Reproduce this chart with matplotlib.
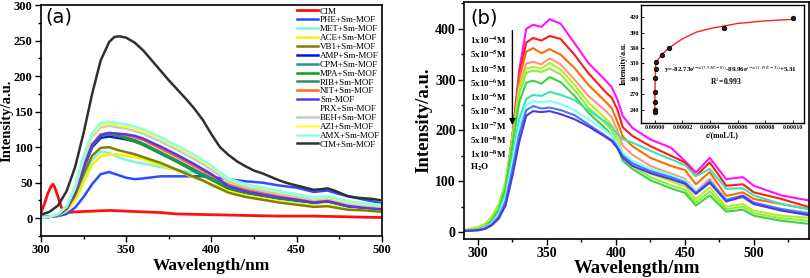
import numpy as np
import matplotlib
matplotlib.use('Agg')
import matplotlib.pyplot as plt
from matplotlib.ticker import MultipleLocator, FormatStrFormatter

plt.rcParams['font.family'] = ['Liberation Serif', 'DejaVu Serif']
plt.rcParams['mathtext.fontset'] = 'stix'

# ---------------- panel (a) data ----------------
wl_a = [300, 305, 310, 315, 320, 325, 330, 335, 340, 345, 350, 355, 360, 370,
        380, 390, 395, 400, 410, 420, 430, 440, 450, 460, 468, 475, 480, 490, 500]

wl_cim = [300, 302, 304, 306, 307, 308, 310, 312, 314, 316, 320, 330, 340, 350,
          360, 370, 380, 400, 420, 440, 460, 480, 500]
cim = [8, 20, 35, 45, 48, 44, 30, 15, 9, 8, 9, 10, 11, 10, 9, 8, 6, 5, 4, 3, 3, 2, 1]

wl_black = [300, 305, 310, 315, 320, 325, 330, 335, 340, 343, 346, 350, 355, 360,
            365, 370, 375, 380, 385, 390, 395, 400, 405, 410, 415, 420, 425, 430,
            435, 440, 445, 450, 455, 460, 465, 468, 472, 476, 480, 485, 490, 495, 500]
cim_mof = [5, 9, 18, 38, 72, 120, 175, 222, 248, 255, 256, 254, 247, 236,
           222, 208, 194, 181, 168, 154, 138, 118, 100, 89, 80, 73, 67, 63,
           58, 53, 49, 46, 43, 40, 41, 42, 39, 35, 31, 29, 28, 27, 25]

labels_a = ['CIM', 'PHE+Sm-MOF', 'MET+Sm-MOF', 'ACE+Sm-MOF', 'VB1+Sm-MOF',
            'AMP+Sm-MOF', 'CPM+Sm-MOF', 'MPA+Sm-MOF', 'RIB+Sm-MOF', 'NIT+Sm-MOF',
            'Sm-MOF', 'PRX+Sm-MOF', 'BEH+Sm-MOF', 'AZI+Sm-MOF', 'AMX+Sm-MOF',
            'CIM+Sm-MOF']
colors_a = ['#ff1010', '#2a4cff', '#7ff5dc', '#f2f20a', '#7f8000', '#0010f0',
            '#1e9a78', '#109c10', '#22906e', '#ff6a1a', '#5a35f0', '#ffffff',
            '#c4cbcb', '#ffff40', '#8cffe6', '#2f3030']

phe = [2, 2, 3, 6, 15, 30, 48, 62, 65, 61, 57, 55, 56, 59, 59, 59, 59, 58, 55, 52, 50, 46, 43, 37, 39, 34, 31, 26, 21]
met = [1, 2, 5, 12, 30, 58, 82, 94, 92, 86, 82, 79, 77, 72, 68, 64, 62, 58, 48, 42, 38, 34, 31, 27, 29, 25, 22, 19, 16]
ace = [1, 2, 4, 10, 25, 50, 75, 87, 90, 90, 88, 86, 83, 75, 67, 57, 53, 48, 40, 34, 30, 26, 23, 20, 22, 18, 16, 14, 12]
vb1 = [1, 2, 5, 13, 32, 62, 88, 99, 100, 96, 93, 90, 86, 78, 68, 58, 53, 47, 36, 30, 26, 22, 19, 16, 17, 14, 12, 11, 9]
amp = [1, 2, 5, 14, 36, 70, 100, 113, 115, 113, 111, 108, 104, 92, 80, 68, 62, 55, 42, 36, 32, 28, 25, 22, 24, 20, 17, 15, 13]
cpm = [1, 2, 5, 14, 37, 72, 102, 116, 118, 116, 113, 109, 104, 92, 80, 67, 61, 55, 43, 37, 33, 29, 26, 23, 25, 21, 18, 16, 14]
mpa = [1, 2, 5, 14, 37, 72, 102, 116, 118, 116, 112, 108, 103, 91, 79, 66, 60, 54, 42, 36, 32, 28, 25, 22, 24, 20, 17, 15, 13]
rib = [1, 2, 5, 14, 37, 73, 103, 117, 119, 117, 114, 110, 105, 93, 81, 68, 62, 56, 44, 38, 34, 30, 27, 24, 26, 22, 19, 17, 15]
nit = [1, 2, 5, 14, 37, 74, 104, 118, 120, 119, 117, 114, 110, 98, 86, 73, 67, 60, 47, 40, 35, 31, 28, 24, 26, 22, 19, 17, 15]
smmof = [1, 2, 5, 14, 37, 73, 103, 117, 120, 119, 118, 116, 112, 101, 89, 76, 69, 62, 45, 38, 33, 29, 26, 22, 24, 20, 17, 15, 13]
prx = [1, 2, 5, 15, 40, 78, 110, 124, 126, 124, 122, 119, 115, 104, 92, 79, 72, 65, 50, 42, 37, 33, 29, 25, 27, 23, 20, 18, 16]
beh = [1, 2, 6, 16, 42, 82, 115, 128, 130, 128, 126, 123, 119, 108, 96, 83, 76, 68, 52, 44, 39, 34, 30, 26, 28, 24, 21, 18, 16]
azi = [1, 2, 6, 17, 44, 86, 118, 131, 133, 131, 129, 126, 122, 112, 100, 87, 80, 72, 55, 47, 42, 37, 33, 28, 30, 26, 23, 20, 18]
amx = [1, 2, 6, 17, 45, 88, 120, 134, 136, 134, 132, 129, 125, 114, 102, 89, 82, 74, 56, 48, 43, 38, 34, 29, 31, 27, 24, 21, 19]

series_a = [phe, met, ace, vb1, amp, cpm, mpa, rib, nit, smmof, prx, beh, azi, amx]

# ---------------- panel (b) data ----------------
wl_b = [290, 300, 305, 310, 315, 320, 325, 330, 335, 340, 346, 352, 360, 370, 380,
        392, 397, 401, 405, 412, 425, 440, 450, 458, 468, 480, 492, 500, 520, 540]

conc_labels = ['1x10$^{\\mathbf{-4}}$M', '5x10$^{\\mathbf{-5}}$M', '1x10$^{\\mathbf{-5}}$M',
               '5x10$^{\\mathbf{-6}}$M', '1x10$^{\\mathbf{-6}}$M', '5x10$^{\\mathbf{-7}}$M',
               '1x10$^{\\mathbf{-7}}$M', '5x10$^{\\mathbf{-8}}$M', '1x10$^{\\mathbf{-8}}$M',
               'H$_\\mathbf{2}$O']
colors_b = ['#ff10ff', '#ff1a1a', '#ff6a00', '#ff9478', '#b4f020', '#8cf040',
            '#40d040', '#40e0b0', '#80ffff', '#4878ff', '#5038e0']

b1 = [2, 5, 10, 22, 45, 90, 190, 320, 400, 408, 404, 419, 410, 372, 333, 300, 285, 262, 228, 205, 182, 166, 140, 117, 146, 104, 108, 91, 72, 62]
b2 = [2, 5, 10, 22, 45, 90, 188, 310, 373, 382, 377, 386, 380, 349, 313, 277, 264, 242, 206, 189, 169, 150, 137, 110, 137, 91, 94, 78, 65, 49]
b3 = [2, 5, 10, 22, 45, 90, 188, 303, 355, 362, 352, 360, 349, 323, 290, 258, 244, 218, 188, 169, 146, 130, 122, 94, 118, 71, 78, 65, 55, 45]
b4 = [2, 5, 10, 22, 45, 88, 183, 288, 332, 335, 330, 342, 330, 300, 268, 240, 226, 200, 170, 152, 130, 115, 105, 80, 105, 62, 68, 55, 45, 38]
b5 = [4, 10, 16, 30, 55, 100, 188, 283, 322, 325, 322, 333, 320, 290, 255, 225, 211, 186, 155, 138, 115, 100, 90, 65, 88, 50, 55, 42, 32, 28]
b6 = [2, 6, 12, 24, 48, 92, 180, 273, 313, 318, 315, 322, 310, 280, 245, 215, 201, 176, 147, 130, 108, 92, 83, 58, 80, 45, 50, 37, 27, 22]
b7 = [2, 5, 10, 22, 44, 86, 170, 256, 294, 298, 292, 305, 295, 268, 235, 205, 191, 168, 140, 124, 102, 86, 77, 52, 72, 40, 44, 32, 22, 16]
b8 = [2, 5, 9, 19, 38, 75, 148, 223, 262, 270, 268, 276, 270, 260, 240, 218, 207, 193, 183, 176, 160, 143, 132, 110, 124, 85, 86, 72, 55, 45]
b9 = [2, 4, 8, 17, 34, 68, 138, 208, 249, 258, 255, 258, 252, 240, 222, 200, 190, 176, 156, 140, 125, 112, 102, 80, 100, 65, 70, 58, 45, 38]
b10 = [2, 4, 7, 15, 30, 60, 124, 193, 240, 248, 243, 245, 240, 230, 212, 190, 181, 168, 150, 135, 120, 108, 98, 77, 100, 63, 72, 58, 45, 36]
b11 = [2, 3, 6, 13, 26, 52, 110, 178, 229, 238, 236, 238, 232, 222, 208, 188, 179, 165, 146, 130, 116, 104, 95, 75, 97, 60, 70, 55, 42, 33]
series_b = [b1, b2, b3, b4, b5, b6, b7, b8, b9, b10, b11]

# inset: concentration vs intensity
conc = [1e-4, 5e-5, 1e-5, 5e-6, 1e-6, 5e-7, 1e-7, 5e-8, 1e-8, 5e-9, 0]
conc_int = [418, 400, 360, 347, 333, 320, 302, 275, 255, 240, 235]
fit_x = [0, 1e-7, 3e-7, 6e-7, 1e-6, 3e-6, 5e-6, 1e-5, 2e-5, 3e-5, 4e-5, 5e-5, 6e-5, 8e-5, 1e-4]
fit_y = [240, 275, 305, 325, 333, 340, 347, 360, 378, 391, 398, 403, 408, 413, 416]
formula = 'y=-82.73e$^{(-x/(7.95E-8))}$-89.96e$^{(-x/(1.19E-5))}$+5.31'

fig = plt.figure(figsize=(8.1, 2.78), dpi=100)

# ---- (a) ----
ax = fig.add_axes([0.0506, 0.151, 0.421, 0.831])
ax.plot(wl_a, prx, color=colors_a[11], lw=1.8, zorder=1)
ax.plot(wl_cim, cim, color=colors_a[0], lw=2.0, label=labels_a[0], zorder=2)
for i, s in enumerate(series_a):
    if labels_a[i + 1] == 'PRX+Sm-MOF':
        ax.plot([], [], color=colors_a[i + 1], lw=1.8, label=labels_a[i + 1])
        continue
    ax.plot(wl_a, s, color=colors_a[i + 1], lw=1.8, label=labels_a[i + 1], zorder=2)
ax.plot(wl_black, cim_mof, color=colors_a[15], lw=1.8, label=labels_a[15], zorder=3)
ax.set_xlim(300, 500)
ax.set_ylim(-25, 300)
ax.xaxis.set_major_locator(MultipleLocator(50))
ax.xaxis.set_minor_locator(MultipleLocator(25))
ax.yaxis.set_major_locator(MultipleLocator(50))
ax.yaxis.set_minor_locator(MultipleLocator(25))
ax.tick_params(which='both', direction='out', width=1, labelsize=9, pad=2)
ax.tick_params(which='major', length=4)
ax.tick_params(which='minor', length=2.5)
for t in ax.get_xticklabels() + ax.get_yticklabels():
    t.set_fontweight('bold')
for sp in ax.spines.values():
    sp.set_linewidth(1.2)
ax.set_xlabel('Wavelength/nm', fontsize=12.5, fontweight='bold', labelpad=1)
ax.set_ylabel('Intensity/a.u.', fontsize=10.5, fontweight='bold', labelpad=0)
ax.text(0.012, 0.946, '(a)', transform=ax.transAxes, fontsize=14,
        family='DejaVu Sans', va='center', ha='left')
ax.legend(loc='upper left', bbox_to_anchor=(0.751, 0.99), frameon=False,
          fontsize=6.5, handlelength=2.3, handletextpad=0.25, labelspacing=0.06,
          borderaxespad=0, borderpad=0)

# ---- (b) ----
bx = fig.add_axes([0.573, 0.14, 0.4258, 0.853])
for s, c in zip(series_b, colors_b):
    bx.plot(wl_b, s, color=c, lw=1.5)
bx.set_xlim(290, 540)
bx.set_ylim(-14, 453)
bx.xaxis.set_major_locator(MultipleLocator(50))
bx.xaxis.set_minor_locator(MultipleLocator(25))
bx.yaxis.set_major_locator(MultipleLocator(100))
bx.yaxis.set_minor_locator(MultipleLocator(50))
bx.tick_params(which='both', direction='out', width=1, labelsize=10, pad=2)
bx.tick_params(which='major', length=4)
bx.tick_params(which='minor', length=2.5)
for t in bx.get_xticklabels() + bx.get_yticklabels():
    t.set_fontweight('bold')
for sp in bx.spines.values():
    sp.set_linewidth(1.2)
bx.set_xlabel('Wavelength/nm', fontsize=13.5, fontweight='bold', labelpad=0)
bx.set_ylabel('Intensity/a.u.', fontsize=13.5, fontweight='bold', labelpad=2)
bx.text(0.017, 0.933, '(b)', transform=bx.transAxes, fontsize=14,
        family='DejaVu Sans', va='center', ha='left')
for i, lab in enumerate(conc_labels):
    yy = 377 - 28 * i if i < 9 else 127
    bx.text(294, yy, lab, fontsize=6.5, fontweight='bold', va='center', ha='left')
bx.annotate('', xy=(325, 205), xytext=(325, 402),
            arrowprops=dict(arrowstyle='-|>', color='black', lw=1.0,
                            mutation_scale=9))

# ---- inset ----
ix = fig.add_axes([0.7914, 0.5576, 0.2012, 0.4245])
ix.plot(fit_x, fit_y, color='#ff2020', lw=1.0, zorder=2)
ix.plot(conc, conc_int, 'o', ms=3.2, mfc='#202020', mec='black', mew=0.6, zorder=3)
ix.set_xlim(-1.0e-5, 1.08e-4)
ix.set_ylim(214, 444)
ix.set_xticks([0, 2e-5, 4e-5, 6e-5, 8e-5, 1e-4])
ix.set_yticks([240, 270, 300, 330, 360, 390, 420])
ix.xaxis.set_major_formatter(FormatStrFormatter('%.5f'))
ix.tick_params(direction='in', length=2, width=0.6, labelsize=4.5, pad=1.5)
for t in ix.get_xticklabels() + ix.get_yticklabels():
    t.set_fontweight('bold')
for sp in ix.spines.values():
    sp.set_linewidth(1.0)
ix.set_xlabel('c/(moL/L)', fontsize=5.5, fontweight='bold', labelpad=1)
ix.set_ylabel('Intensity/a.u.', fontsize=5.5, fontweight='bold', labelpad=1)
ix.text(0.55, 0.45, formula, transform=ix.transAxes, fontsize=5,
        fontweight='bold', ha='center', va='center')
ix.text(0.52, 0.355, 'R$^{2}$=0.993', transform=ix.transAxes, fontsize=5.5,
        fontweight='bold', ha='center', va='center')

fig.savefig('out.png', dpi=100)
